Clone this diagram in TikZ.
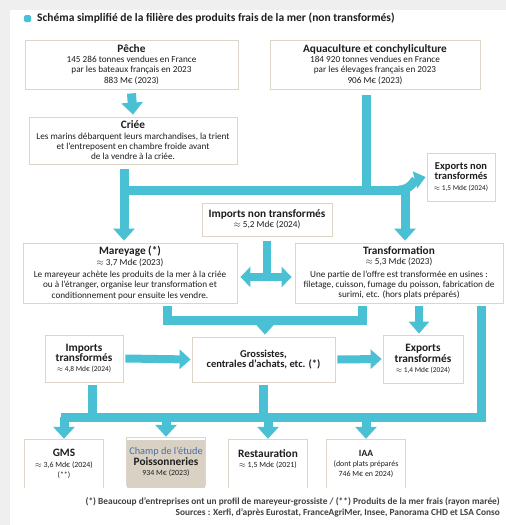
\documentclass[tikz,border=0pt]{standalone}
\usepackage{fontspec}
\setmainfont{Carlito}
\usepackage{tikz}
\usetikzlibrary{arrows.meta}
\definecolor{flow}{HTML}{4AC0D4}
\definecolor{boxline}{HTML}{DDD5C8}
\definecolor{champ}{HTML}{D9D1C4}
\definecolor{champtxt}{HTML}{4A6EA8}
\definecolor{ink}{HTML}{1E1E1E}
\definecolor{fond}{HTML}{EFEFEF}
\newcommand{\apx}{$\approx$}
\newcommand{\titre}[1]{{\fontsize{11.3}{12}\selectfont\bfseries #1}}
\newcommand{\petit}[1]{{\fontsize{7.4}{9}\selectfont #1}}
\newcommand{\bas}[1]{{\fontsize{7.9}{9}\selectfont #1}}

\begin{document}
\begin{tikzpicture}[x=1pt,y=-1pt,
	every node/.style={font=\fontsize{9.2}{10.3}\selectfont,text=ink,align=center,inner sep=0pt},
	box/.style={draw=boxline,fill=white,line width=0.8pt},
	flux/.style={draw=flow,line width=9pt},
	bande/.style={flux,line cap=rect},
	fleche/.style={flux,-{Triangle[width=21pt,length=12pt]}},
	fleche2/.style={flux,line width=8pt,{Triangle[width=20pt,length=10pt]}-{Triangle[width=20pt,length=10pt]}}]
	
	\fill[fond] (0,0) rectangle (506,525);
	\fill[white] (10,10) rectangle (506,525);
	\useasboundingbox (0,0) rectangle (506,525);
	
	\fill[flow,rounded corners=1.5pt] (24,15) rectangle (31,22);
	\node[anchor=west,font=\fontsize{11.5}{13}\selectfont\bfseries] (titre) at (37,18.5) {Schéma simplifié de la filière des produits frais de la mer (non transformés)};
	
	% sources
	\node[box,minimum width=213pt,minimum height=49pt] (peche) at (131.5,64.5) {\titre{Pêche}\\145 286 tonnes vendues en France\\par les bateaux français en 2023\\883 M€ (2023)};
	\node[box,minimum width=210pt,minimum height=49pt] (aqua) at (375,64.5) {\titre{Aquaculture et conchyliculture}\\184 920 tonnes vendues en France\\par les élevages français en 2023\\906 M€ (2023)};
	\node[box,minimum width=208pt,minimum height=47pt] (criee) at (133,140.5) {\titre{Criée}\\Les marins débarquent leurs marchandises, la trient\\et l’entreposent en chambre froide avant\\de la vendre à la criée.};
	\node[box,minimum width=68pt,minimum height=48pt] (expnt) at (461,177) {{\fontsize{10.5}{12}\selectfont\bfseries Exports non}\\{\fontsize{10.5}{12}\selectfont\bfseries transformés}\\\petit{\apx{} 1,5 Md€ (2024)}};
	\node[box,minimum width=130pt,minimum height=33pt] (impnt) at (267,219.5) {\titre{Imports non transformés}\\\apx{} 5,2 Md€ (2024)};
	
	% mareyage et transformation
	\node[box,minimum width=214pt,minimum height=60pt] (mareyage) at (130,273) {\titre{Mareyage (*)}\\\apx{} 3,7 Md€ (2023)\\[2pt]Le mareyeur achète les produits de la mer à la criée\\ou à l’étranger, organise leur transformation et\\conditionnement pour ensuite les vendre.};
	\node[box,minimum width=208pt,minimum height=60pt] (transfo) at (399,273) {\titre{Transformation}\\\apx{} 5,3 Md€ (2023)\\[2pt]Une partie de l’offre est transformée en usines :\\filetage, cuisson, fumage du poisson, fabrication de\\surimi, etc. (hors plats préparés)};
	
	% grossistes
	\node[box,minimum width=78pt,minimum height=47pt] (imptr) at (84,358.5) {\titre{Imports}\\\titre{transformés}\\\petit{\apx{} 4,8 Md€ (2024)}};
	\node[box,minimum width=143pt,minimum height=45pt] (gross) at (263.5,359.5) {{\fontsize{10.5}{14}\selectfont\bfseries Grossistes,}\\{\fontsize{10.5}{14}\selectfont\bfseries centrales d’achats, etc. (*)}};
	\node[box,minimum width=80pt,minimum height=48pt] (exptr) at (423,359) {\titre{Exports}\\\titre{transformés}\\\petit{\apx{} 1,4 Md€ (2024)}};
	
	% debouches
	\fill[champ] (127,440) rectangle (205,488);
	\node[minimum width=78pt,minimum height=48pt] (gms) at (64,464) {\titre{GMS}\\\bas{\apx{} 3,6 Md€ (2024)}\\\bas{(**)}};
	\node[minimum width=78pt,minimum height=48pt] (poiss) at (166,462) {{\fontsize{10.3}{11}\selectfont\color{champtxt}Champ de l’étude}\\\titre{Poissonneries}\\\bas{934 M€ (2023)}};
	\node[minimum width=78pt,minimum height=48pt] (resto) at (268,464) {\titre{Restauration}\\\bas{\apx{} 1,5 Md€ (2021)}\\\mbox{}};
	\node[minimum width=78pt,minimum height=48pt] (iaa) at (366,464) {{\fontsize{9.5}{11}\selectfont\bfseries IAA}\\\bas{(dont plats préparés}\\\bas{746 M€ en 2024)}};
	\foreach \b in {gms,poiss,resto,iaa}
		\draw[boxline,line width=0.8pt] (\b.south west) |- (\b.north east) -- (\b.south east);
	
	\node[anchor=east,align=right,font=\fontsize{9.35}{11}\selectfont\bfseries,text=ink!85] (notes) at (500,507) {(*) Beaucoup d’entreprises ont un profil de mareyeur-grossiste / (**) Produits de la mer frais (rayon marée)\\Sources : Xerfi, d’après Eurostat, FranceAgriMer, Insee, Panorama CHD et LSA Conso};
	
	% flux
	\coordinate (criebas) at (124,169);
	\coordinate (coude) at (124,190);
	\coordinate (aqhaut) at (366,95);
	\coordinate (aqbas) at (366,190);
	\coordinate (droite) at (405,190);
	\coordinate (depart) at (399,190);
	\coordinate (imphaut) at (267,241);
	\coordinate (impbas) at (267,277);
	
	\draw[fleche] ([yshift=-4pt]peche.south) -- ([yshift=2pt]criee.north);
	\draw[flux] (aqhaut) -- (aqbas);
	\draw[bande] (coude) -- (droite);
	\draw[fleche,shorten >=2pt] (criebas) -- (criebas |- mareyage.north);
	\draw[fleche,shorten >=2pt] (droite) -- (droite |- transfo.north);
	\draw[flux,-{Triangle[width=17pt,length=11pt]}] (depart) to[out=0,in=195] ([xshift=-1pt]expnt.west);
	\draw[flux,line width=8.5pt] (imphaut) -- (impbas);
	\draw[fleche2,shorten <=3pt,shorten >=3pt] (mareyage.east |- impbas) -- (transfo.west |- impbas);
	
	\coordinate (m1) at (167,306);
	\coordinate (m2) at (167,320);
	\coordinate (t1) at (362,306);
	\coordinate (t2) at (362,320);
	\coordinate (milieu) at (265,320);
	\coordinate (t3) at (419,306);
	\coordinate (t4) at (481,306);
	\coordinate (t5) at (481,417);
	\coordinate (b0) at (60.5,417);
	\coordinate (i1) at (92,385);
	\coordinate (g1) at (263,385);
	
	\draw[flux] (m1) -- (m2) -- (t2) -- (t1);
	\draw[fleche,shorten >=2pt] (milieu) -- (milieu |- gross.north);
	\draw[flux,line width=8pt,-{Triangle[width=20pt,length=12pt]},shorten >=1pt] (t3) -- (t3 |- exptr.north);
	\draw[flux] (t4) -- (t5) -- (b0);
	\draw[flux,line width=8pt,-{Triangle[width=19pt,length=11pt]}] ([xshift=2pt]imptr.east) -- ([xshift=-1pt]gross.west);
	\draw[flux,line width=8pt,-{Triangle[width=19pt,length=11pt]}] ([xshift=2pt]gross.east) -- ([xshift=-1pt]exptr.west);
	\draw[flux] (i1) -- (i1 |- b0);
	\draw[flux] (g1) -- (g1 |- b0);
	\foreach \b in {gms,poiss,resto,iaa}
		\draw[fleche,shorten >=1pt] (\b.north |- b0) -- (\b.north);
\end{tikzpicture}
\end{document}
